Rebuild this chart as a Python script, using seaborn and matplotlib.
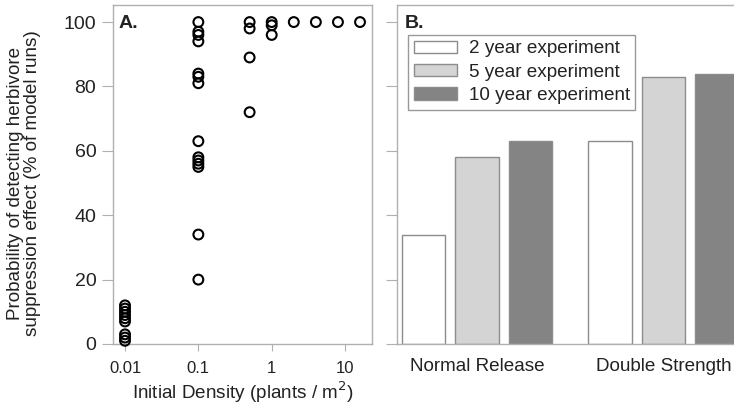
import pandas as pd
import matplotlib.pyplot as plt
import seaborn as sns

# データ
density_levels = [0.01, 0.1, 0.5, 1, 2, 4, 8, 16]
prob_at_001 = [12, 11, 10, 9, 8, 7, 3, 2, 1]
prob_at_01 = [100, 97, 96, 94, 84, 83, 81, 63, 58, 57, 56, 55, 34, 20]
prob_at_05 = [100, 98, 89, 72]
prob_at_1 = [100, 99, 96]
prob_at_2 = [100]
prob_at_4 = [100]
prob_at_8 = [100]
prob_at_16 = [100]

release_types = ['Normal Release', 'Double Strength']
experiments = ['2 year experiment', '5 year experiment', '10 year experiment']
two_year = [34, 63]
five_year = [58, 83]
ten_year = [63, 84]

sns.set_style('white')
plt.rcParams['font.family'] = ['Liberation Sans', 'DejaVu Sans']
plt.rcParams['text.color'] = '#222222'
plt.rcParams['axes.labelcolor'] = '#222222'

frame = '#b0b0b0'

# 散布図用テーブル
groups = [prob_at_001, prob_at_01, prob_at_05, prob_at_1,
          prob_at_2, prob_at_4, prob_at_8, prob_at_16]
rows = []
for d, vals in zip(density_levels, groups):
    for v in vals:
        rows.append({'density': d, 'prob': v})
df_a = pd.DataFrame(rows)

# 棒グラフ用テーブル
rows = []
for exp, vals in zip(experiments, [two_year, five_year, ten_year]):
    for r, v in zip(release_types, vals):
        rows.append({'release': r, 'experiment': exp, 'prob': v})
df_b = pd.DataFrame(rows)

fig = plt.figure(figsize=(7.34, 4.07), dpi=100)
W, H = 734, 407
ax_a = fig.add_axes([113 / W, 63 / H, 259 / W, 339 / H])
ax_b = fig.add_axes([397 / W, 63 / H, 346.5 / W, 339 / H])

# A. 初期密度と検出確率
sns.scatterplot(data=df_a, x='density', y='prob', ax=ax_a, s=50,
                facecolor='none', edgecolor='black', linewidth=1.5,
                clip_on=False, zorder=3)
ax_a.set_xscale('log')
ax_a.set_xlim(0.00686, 23.3)
ax_a.set_ylim(0, 105.3)
ax_a.set_xticks([0.01, 0.1, 1, 10])
ax_a.set_xticklabels(['0.01', '0.1', '1', '10'])
ax_a.minorticks_off()
ax_a.set_yticks([0, 20, 40, 60, 80, 100])
ax_a.tick_params(axis='x', labelsize=12, length=5, pad=7, color=frame,
                 labelcolor='#222222', bottom=True)
ax_a.tick_params(axis='y', labelsize=14, length=8, pad=4, color=frame,
                 labelcolor='#222222', left=True)
ax_a.set_xlabel('Initial Density (plants / m$^2$)', fontsize=13.6, labelpad=3)
ax_a.set_ylabel('')
ax_a.text(0.023, 0.97, 'A.', transform=ax_a.transAxes, fontsize=14,
          fontweight='bold', va='top', ha='left')

# B. 放出タイプ別の棒グラフ
sns.barplot(data=df_b, x='release', y='prob', hue='experiment',
            palette=['white', '#d4d4d4', '#848484'], width=0.86, gap=0.19,
            edgecolor='#8c8c8c', linewidth=1, ax=ax_b)
ax_b.set_xlim(-0.429, 1.429)
ax_b.set_ylim(0, 105.3)
ax_b.set_yticks([0, 20, 40, 60, 80, 100])
ax_b.set_yticklabels([])
ax_b.tick_params(axis='y', length=8, color=frame, left=True)
ax_b.tick_params(axis='x', labelsize=13.6, length=0, pad=10,
                 labelcolor='#222222')
ax_b.set_xlabel('')
ax_b.set_ylabel('')
ax_b.text(0.023, 0.97, 'B.', transform=ax_b.transAxes, fontsize=14,
          fontweight='bold', va='top', ha='left')
handles, labels = ax_b.get_legend_handles_labels()
ax_b.legend(handles, labels, loc='upper left', bbox_to_anchor=(0.032, 0.912),
            borderaxespad=0, fontsize=13.6, frameon=True, fancybox=False,
            framealpha=1, edgecolor='#999999', handlelength=2.3,
            handleheight=0.65, handletextpad=0.6, labelspacing=0.33,
            borderpad=0.3)

for ax in (ax_a, ax_b):
    for sp in ax.spines.values():
        sp.set_color(frame)
        sp.set_linewidth(1)

fig.text(24 / W, 1 - 183 / H,
         'Probability of detecting herbivore\nsuppression effect (% of model runs)',
         rotation=90, ha='center', va='center', fontsize=13.6, linespacing=1.0)

plt.savefig('out.png', dpi=100)
plt.close()
